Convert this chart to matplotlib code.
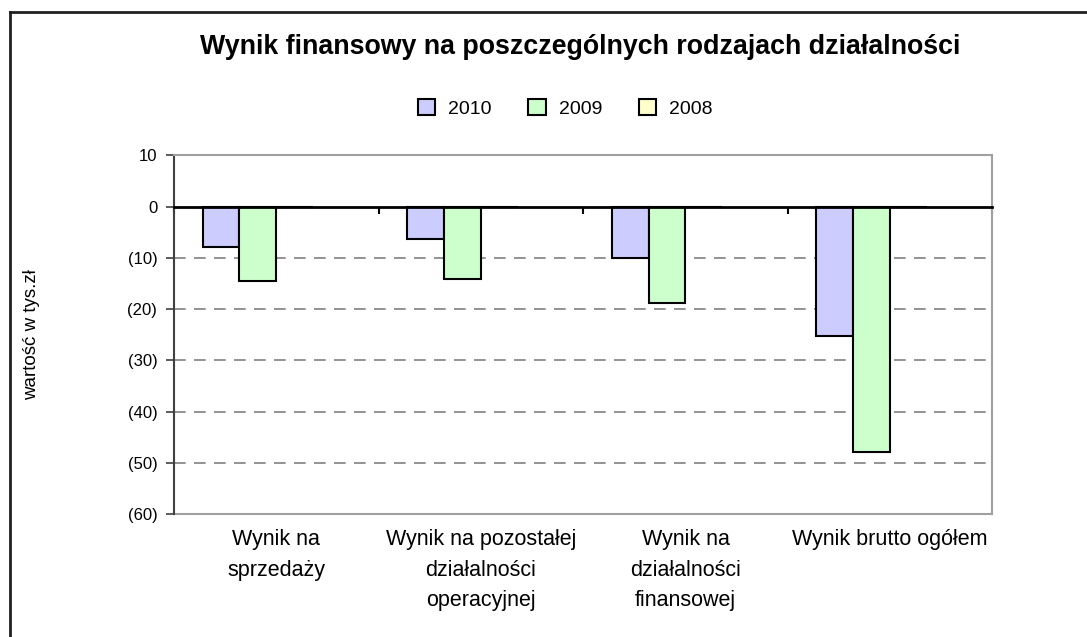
import matplotlib.pyplot as plt
import numpy as np
from matplotlib.ticker import FuncFormatter
from matplotlib.lines import Line2D

plt.rcParams['font.family'] = ['Liberation Sans', 'DejaVu Sans']

# dane (tys. zł)
categories = ["Wynik na\nsprzedaży",
              "Wynik na pozostałej\ndziałalności\noperacyjnej",
              "Wynik na\ndziałalności\nfinansowej",
              "Wynik brutto ogółem"]
years = ["2010", "2009", "2008"]
values_2010 = [-7.9, -6.3, -10.1, -25.2]
values_2009 = [-14.6, -14.1, -18.9, -47.8]
values_2008 = [0, 0, 0, 0]
colors = ["#CCCCFF", "#CCFFCC", "#FFFFCC"]

fig = plt.figure(figsize=(10.87, 6.37), dpi=100)
ax = fig.add_axes([0.160, 0.193, 0.753, 0.563])

x = np.arange(len(categories))
w = 0.18
series = [values_2010, values_2009, values_2008]
for i, (vals, year, col) in enumerate(zip(series, years, colors)):
    ax.bar(x + (i - 1.5) * w, vals, w, color=col, edgecolor="black",
           linewidth=1.5, label=year, zorder=3)

ax.set_xlim(-0.5, len(categories) - 0.5)
ax.set_ylim(-60, 10)
ax.set_yticks(np.arange(-60, 11, 10))
ax.yaxis.set_major_formatter(FuncFormatter(
    lambda v, p: "0" if v == 0 else (f"({abs(v):.0f})" if v < 0 else f"{v:.0f}")))
ax.tick_params(axis="y", direction="out", length=6, width=1.2, color="#404040",
               labelsize=12, pad=6)

# siatka przerywana
for yv in np.arange(-50, 0, 10):
    ax.axhline(yv, color="#808080", linestyle=(0, (7, 5)), linewidth=1.2, zorder=1)

# oś X w zerze z kreskami na granicach kategorii
ax.spines["bottom"].set_position(("data", 0))
ax.spines["bottom"].set_linewidth(2)
ax.spines["bottom"].set_color("black")
ax.spines["bottom"].set_zorder(4)
ax.set_xticks(np.arange(-0.5, len(categories), 1))
ax.set_xticklabels([])
ax.tick_params(axis="x", direction="out", length=5, width=1.5, color="black")

for s in ["top", "right"]:
    ax.spines[s].set_color("#A0A0A0")
    ax.spines[s].set_linewidth(1.5)
ax.spines["left"].set_color("#404040")
ax.spines["left"].set_linewidth(1.5)
ax.plot([0, 1], [0, 0], transform=ax.transAxes, color="#A0A0A0", lw=1.5,
        clip_on=False, zorder=2)

for xi, lab in zip(x, categories):
    ax.text(xi, -0.042, lab, transform=ax.get_xaxis_transform(), ha="center",
            va="top", fontsize=15.5, linespacing=1.6)

ax.set_ylabel("wartość w tys.zł", fontsize=13.5, labelpad=0)
ax.yaxis.set_label_coords(-0.163, 0.5)

fig.suptitle("Wynik finansowy na poszczególnych rodzajach działalności",
             x=0.534, y=0.927, fontsize=19.3, fontweight="bold", va="center")

leg = fig.legend(loc="center", bbox_to_anchor=(0.52, 0.83), ncol=3, frameon=False,
                 fontsize=14, handlelength=0.9, handleheight=0.9, columnspacing=1.9,
                 handletextpad=0.65)
for p in leg.get_patches():
    p.set_linewidth(1.5)

# ramka wykresu (widoczna lewa i górna krawędź)
fig.add_artist(Line2D([9.5 / 1087, 9.5 / 1087], [0, 1 - 12 / 637], color="#202020", lw=2))
fig.add_artist(Line2D([9.5 / 1087, 1], [1 - 12 / 637, 1 - 12 / 637], color="#202020", lw=2))

fig.savefig("out.png", dpi=100)
